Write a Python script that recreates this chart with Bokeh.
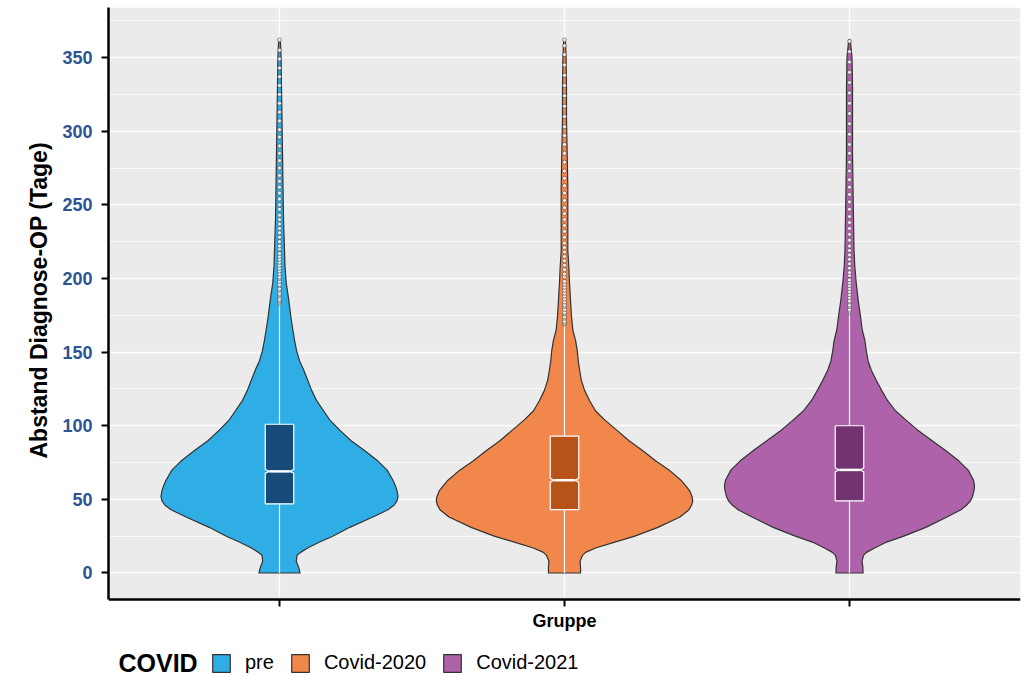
import numpy as np
from bokeh.plotting import figure
from bokeh.models import Range1d, FixedTicker, Legend, LegendItem, Label, Title
from bokeh.core.properties import value
from bokeh.embed import file_html
from bokeh.resources import INLINE

# ---- data -----------------------------------------------------------------
groups = ["pre", "Covid-2020", "Covid-2021"]
violin_colors = ["#2faee5", "#f2874b", "#ad62aa"]
box_colors = ["#174b7a", "#b75218", "#733372"]

# days at which the violin densities are listed
days = [0, 4, 8, 12, 14, 17, 21, 25, 31, 38, 43, 46, 49, 52, 56, 59, 63, 70,
        76, 83, 90, 97, 104, 110, 117, 124, 131, 138, 144, 151, 158, 165,
        174, 185, 197, 208, 219, 240, 262, 285, 308, 330, 350, 362]

density_pre = [20.5, 19, 16.7, 17.5, 21, 28, 40, 53, 70, 93, 108, 114, 117,
               118, 117, 115.5, 113, 107, 98, 85, 71, 60, 50, 44, 37, 32, 28,
               24, 20, 17, 15, 13.3, 11.3, 9.3, 6.7, 5.5, 5, 4, 3.5, 3, 2.5,
               2, 1.6, 0.8]
density_2020 = [16, 16, 15.5, 18, 21, 31, 50, 70, 93, 115, 124, 126.5, 127.7,
                127, 124.5, 121, 116, 104, 91, 78, 64, 52, 40, 31, 25, 20,
                16.7, 15, 13.7, 12.7, 11, 8.3, 7, 6, 5, 4.3, 3.3, 3.3, 3.3,
                2.7, 2, 2, 1.6, 0.8]
density_2021 = [13.5, 13.3, 12.5, 14, 17, 25, 37, 54, 76, 97, 111, 116.5,
                120.5, 122.5, 124, 124.5, 123.5, 118, 109, 96, 82, 68, 56, 46,
                38, 32, 26.5, 21.5, 18.5, 16.7, 15.3, 12.7, 11, 8.7, 6.7, 5.3,
                4.5, 4, 3.5, 3, 3, 3, 2.5, 0.8]

# box plot statistics (days)
q1 = [47, 43, 49]
median = [69, 63, 70]
q3 = [101, 93, 100]
whisker_low = [0, 0, 0]
whisker_high = [182, 168, 176]
notch_half = [1.3, 1.3, 1.3]

outliers_pre = [183, 184, 185, 186, 188, 189, 190, 192, 193, 195, 196, 198,
                200, 201, 203, 205, 207, 209, 211, 213, 215, 217, 220, 222,
                225, 228, 231, 234, 237, 240, 243, 247, 250, 254, 258, 262,
                266, 270, 275, 280, 285, 290, 296, 301, 307, 313, 319, 325,
                331, 337, 343, 349, 355, 362]
outliers_2020 = [169, 170, 171, 173, 174, 176, 177, 179, 181, 182, 184, 186,
                 188, 190, 192, 194, 196, 198, 201, 203, 206, 209, 212, 215,
                 218, 221, 224, 228, 232, 236, 240, 244, 248, 253, 258, 263,
                 268, 273, 279, 285, 291, 297, 303, 310, 317, 324, 331, 338,
                 345, 352, 358, 362]
outliers_2021 = [177, 178, 179, 181, 182, 184, 185, 187, 189, 191, 193, 195,
                 197, 199, 202, 204, 207, 210, 213, 216, 219, 222, 226, 230,
                 234, 238, 242, 247, 252, 257, 262, 267, 273, 279, 285, 291,
                 298, 305, 312, 319, 326, 333, 340, 347, 354, 361]

y_ticks = [0, 50, 100, 150, 200, 250, 300, 350]
y_minor = [25, 75, 125, 175, 225, 275, 325, 375]
x_ticks = [1, 2, 3]

FONT = "Liberation Sans"

# ---- geometry -------------------------------------------------------------
W, H = 1030, 676
TOP, PANEL_BOTTOM, LEFT, RIGHT_PAD = 7, 599, 108, 10
x_lo, x_hi = 0.4, 3.6
y_lo, y_hi = -18, 384
px_per_day = (PANEL_BOTTOM - TOP) / (y_hi - y_lo)
# the plotting frame continues below the grey panel to hold the legend
y_frame_lo = y_hi - (H - TOP) / px_per_day

def px(n):
    """pixels -> days (vertical)"""
    return n / px_per_day

p = figure(width=W, height=H, output_backend="svg", toolbar_location=None,
           x_range=Range1d(x_lo, x_hi), y_range=Range1d(y_frame_lo, y_hi),
           min_border_left=LEFT, min_border_right=RIGHT_PAD,
           min_border_top=TOP, min_border_bottom=0)
p.outline_line_color = None
p.background_fill_color = "white"
p.border_fill_color = "white"

# grey panel
p.quad(left=[x_lo], right=[x_hi], bottom=[y_lo], top=[y_hi],
       fill_color="#ebebeb", line_color=None, level="image")

# grid
p.xgrid.ticker = FixedTicker(ticks=x_ticks)
p.xgrid.bounds = (y_lo, y_hi)
p.xgrid.grid_line_color = "white"
p.xgrid.grid_line_width = 1.3
p.ygrid.ticker = FixedTicker(ticks=y_ticks, minor_ticks=y_minor)
p.ygrid.grid_line_color = "white"
p.ygrid.grid_line_width = 1.6
p.ygrid.minor_grid_line_color = "white"
p.ygrid.minor_grid_line_width = 0.8

# y axis
yax = p.yaxis[0]
yax.ticker = FixedTicker(ticks=y_ticks, minor_ticks=[])
yax.bounds = (y_lo, y_hi)
yax.axis_line_color = "black"
yax.axis_line_width = 2.5
yax.major_tick_line_color = "black"
yax.major_tick_line_width = 2
yax.major_tick_out = 7
yax.major_tick_in = 0
yax.minor_tick_line_color = None
yax.major_label_text_font = FONT
yax.major_label_text_font_style = "bold"
yax.major_label_text_font_size = "18px"
yax.major_label_text_color = "#2a5592"
yax.major_label_standoff = 9

# y title, centred on the grey panel rather than on the whole frame
p.add_layout(Title(text="Abstand Diagnose-OP (Tage)", align="left",
                   offset=H - 458, standoff=16, text_font=FONT,
                   text_font_size="23px", text_font_style="bold",
                   text_color="black"), "left")

# x axis: line, ticks and title drawn at the bottom edge of the grey panel
p.xaxis.visible = False
p.segment(x0=[x_lo], y0=[y_lo], x1=[x_hi], y1=[y_lo],
          line_color="black", line_width=2.5)
p.segment(x0=x_ticks, y0=[y_lo] * 3, x1=x_ticks, y1=[y_lo - px(7)] * 3,
          line_color="black", line_width=2)
p.text(x=[2], y=[y_lo - px(21)], text=["Gruppe"], text_font=value(FONT),
       text_font_style="bold", text_font_size="18px", text_color="black",
       text_align="center", text_baseline="middle")

# ---- violins, boxes, outliers --------------------------------------------
densities = [density_pre, density_2020, density_2021]
outliers = [outliers_pre, outliers_2020, outliers_2021]
peak = max(max(d) for d in densities)
grid = np.array(days, dtype=float)
box_half = 0.05
notch_waist = 0.036

violin_renderers = []
for i, name in enumerate(groups):
    cx = x_ticks[i]
    hw = np.array(densities[i], dtype=float) / peak * 0.45
    xs = np.concatenate([cx + hw, (cx - hw)[::-1]])
    ys = np.concatenate([grid, grid[::-1]])
    r = p.patch(xs, ys, fill_color=violin_colors[i], line_color="#333333",
                line_width=1.2, line_join="round")
    violin_renderers.append(r)

    # whiskers
    p.segment(x0=[cx, cx], y0=[whisker_low[i], q3[i]],
              x1=[cx, cx], y1=[q1[i], whisker_high[i]],
              line_color="white", line_width=1.2)

    # notched box
    lo, hi = cx - box_half, cx + box_half
    m, n = median[i], notch_half[i]
    bx = [lo, hi, hi, cx + notch_waist, hi, hi, lo, lo, cx - notch_waist, lo]
    by = [q1[i], q1[i], m - n, m, m + n, q3[i], q3[i], m + n, m, m - n]
    p.patch(bx, by, fill_color=box_colors[i], line_color="white",
            line_width=1.2)
    p.segment(x0=[cx - notch_waist], y0=[m], x1=[cx + notch_waist], y1=[m],
              line_color="white", line_width=2.5)

    # outliers
    p.scatter(x=[cx] * len(outliers[i]), y=outliers[i], size=4,
              marker="circle", fill_color="white", fill_alpha=0.85,
              line_color="#333333", line_alpha=0.75, line_width=0.7)

# ---- legend ---------------------------------------------------------------
legend = Legend(
    items=[LegendItem(label=g, renderers=[r])
           for g, r in zip(groups, violin_renderers)],
    location=(102, 2), orientation="horizontal",
    glyph_width=22, glyph_height=22, label_height=22,
    label_standoff=13, spacing=15, padding=0, margin=0,
    border_line_color=None, background_fill_alpha=0,
    label_text_font=FONT, label_text_font_size="20px",
    label_text_color="black",
)
p.add_layout(legend)
p.add_layout(Label(x=10, y=14, x_units="screen", y_units="screen",
                   text="COVID", text_font=FONT, text_font_size="25px",
                   text_font_style="bold", text_color="black",
                   text_baseline="alphabetic"))

open("out.html", "w").write(file_html(p, INLINE))
